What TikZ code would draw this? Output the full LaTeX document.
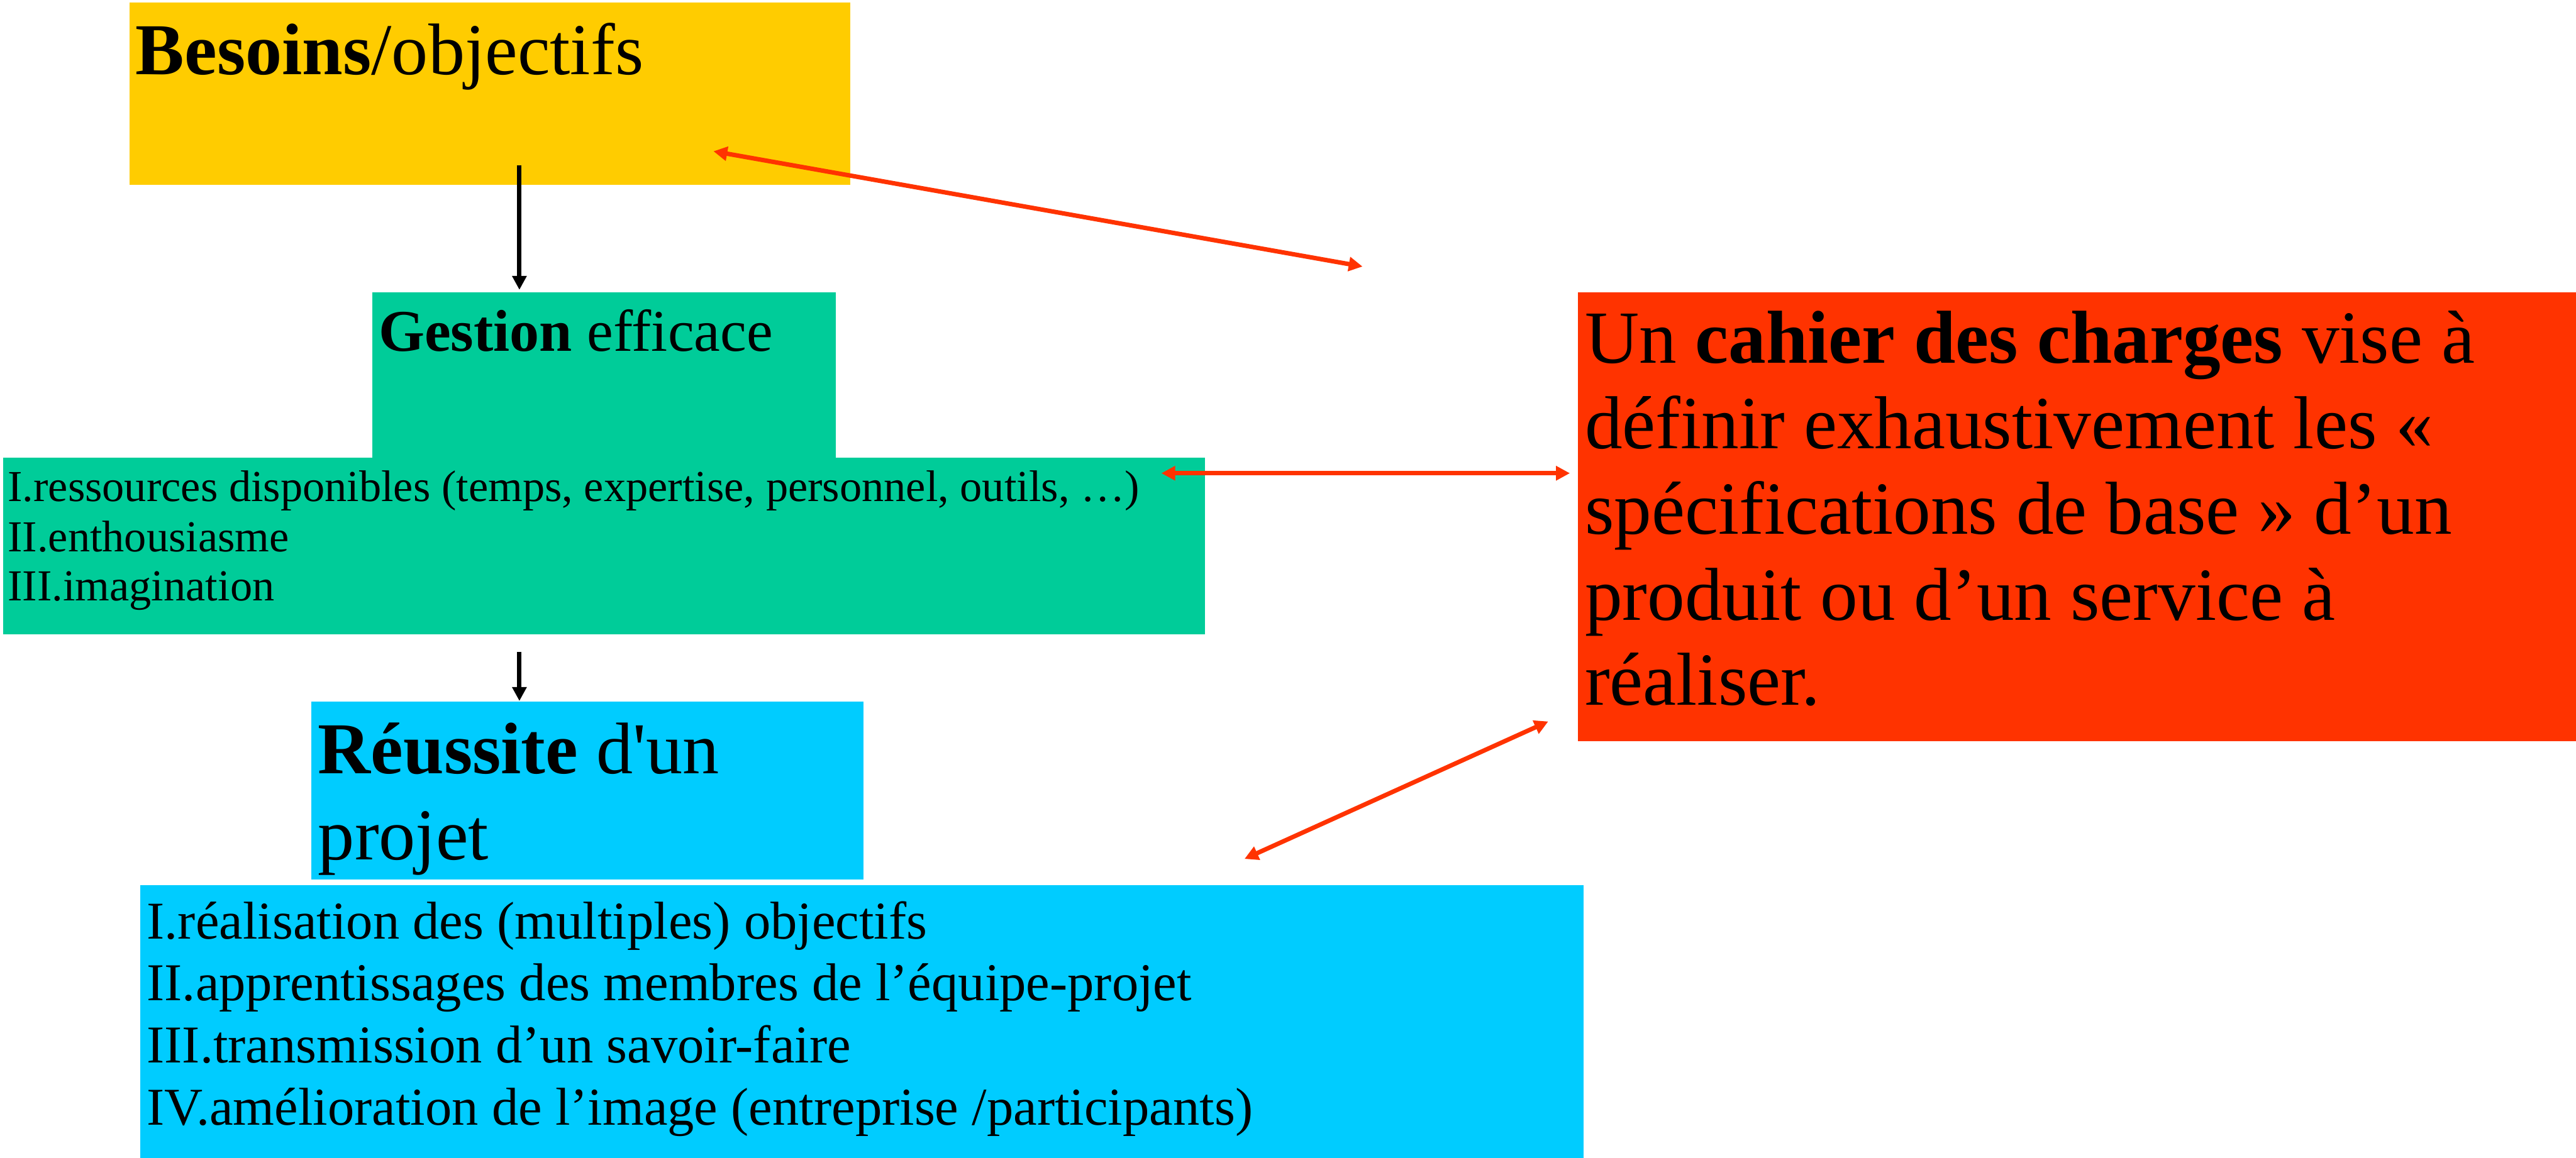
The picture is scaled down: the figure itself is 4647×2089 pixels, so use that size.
\documentclass[tikz,border=0pt]{standalone}
\usepackage{fontspec}
\setmainfont{Liberation Serif}
\usetikzlibrary{arrows.meta}
\definecolor{cyellow}{HTML}{FFCC00}
\definecolor{cgreen}{HTML}{00CC99}
\definecolor{cred}{HTML}{FF3300}
\definecolor{cblue}{HTML}{00CCFF}
\newcommand\fBig{\fontsize{37.5pt}{44pt}\selectfont}
\newcommand\fRed{\fontsize{38.5pt}{45pt}\selectfont}
\newcommand\fGes{\fontsize{30.3pt}{37pt}\selectfont}
\newcommand\fGl{\fontsize{22.7pt}{27pt}\selectfont}
\newcommand\fBl{\fontsize{27.3pt}{33pt}\selectfont}
\begin{document}
\begin{tikzpicture}[x=0.01cm,y=-0.01cm,
  box/.style={inner sep=0pt,outer sep=0pt,draw=none,anchor=north west},
  txt/.style={anchor=base west,inner sep=0pt,outer sep=0pt},
  blk/.style={line width=2.28pt,-{Triangle[length=7.1pt,width=7.1pt]}},
  redarr/.style={draw=cred,line width=2.28pt,{Triangle[length=7.1pt,width=7.1pt]}-{Triangle[length=7.1pt,width=7.1pt]}}]
\useasboundingbox (0,0) rectangle (4647,2089);
% boxes
\node[box,fill=cyellow,minimum width=12.99cm,minimum height=3.28cm] (yel) at (234,5) {};
\node[box,fill=cgreen,minimum width=8.35cm,minimum height=3.03cm] (gtop) at (672,527) {};
\node[box,fill=cgreen,minimum width=21.67cm,minimum height=3.18cm] (gbot) at (6,826) {};
\node[box,fill=cred,minimum width=18.01cm,minimum height=8.10cm] (red) at (2846,527) {};
\node[box,fill=cblue,minimum width=9.95cm,minimum height=3.21cm] (btop) at (562,1266) {};
\node[box,fill=cblue,minimum width=26.02cm,minimum height=4.92cm] (bbot) at (253,1597) {};
% texts
\node[txt,font=\fBig] (t1) at (245,135) {\textbf{Besoins}/objectifs};
\node[txt,font=\fGes] (t2) at (683,634) {\textbf{Gestion} efficace};
\node[txt,font=\fGl] (g1) at (14,905) {I.ressources disponibles (temps, expertise, personnel, outils, …)};
\node[txt,font=\fGl] (g2) at (14,995) {II.enthousiasme};
\node[txt,font=\fGl] (g3) at (14,1084) {III.imagination};
\node[txt,font=\fRed] (r1) at (2859,655) {Un \textbf{cahier des charges} vise à};
\node[txt,font=\fRed] (r2) at (2859,809) {définir exhaustivement les «};
\node[txt,font=\fRed] (r3) at (2859,964) {spécifications de base » d’un};
\node[txt,font=\fRed] (r4) at (2859,1119) {produit ou d’un service à};
\node[txt,font=\fRed] (r5) at (2859,1272) {réaliser.};
\node[txt,font=\fBig] (p1) at (574,1396) {\textbf{Réussite} d\textquotesingle un};
\node[txt,font=\fBig] (p2) at (574,1551) {projet};
\node[txt,font=\fBl] (b1) at (265,1694) {I.réalisation des (multiples) objectifs};
\node[txt,font=\fBl] (b2) at (265,1806) {II.apprentissages des membres de l’équipe-projet};
\node[txt,font=\fBl] (b3) at (265,1918) {III.transmission d’un savoir-faire};
\node[txt,font=\fBl] (b4) at (265,2030) {IV.amélioration de l’image (entreprise /participants)};
% connector ends
\coordinate (a1s) at (937,298);
\coordinate (a1e) at (937,523);
\coordinate (a2s) at (937,1176);
\coordinate (a2e) at (937,1265);
\coordinate (r1a) at (1287,273);
\coordinate (r1b) at (2458,481);
\coordinate (r2a) at (2095,854);
\coordinate (r2b) at (2832,854);
\coordinate (r3a) at (2245,1550);
\coordinate (r3b) at (2793,1302);
\draw[blk] (a1s) -- (a1e);
\draw[blk] (a2s) -- (a2e);
\draw[redarr] (r1a) -- (r1b);
\draw[redarr] (r2a) -- (r2b);
\draw[redarr] (r3a) -- (r3b);
\end{tikzpicture}
\end{document}
